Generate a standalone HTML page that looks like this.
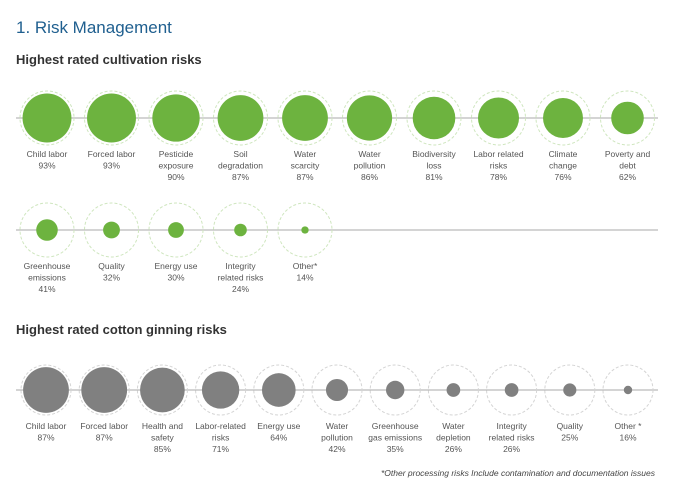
<!DOCTYPE html>
<html><head><meta charset="utf-8"><style>
body{margin:0;background:#fff;font-family:"Liberation Sans",sans-serif;}
svg{display:block}
</style></head><body>
<svg width="676" height="485" id="c">
<text x="16" y="33" font-size="17" fill="#1f5f8f">1. Risk Management</text>
<text x="16" y="64" font-size="13" font-weight="bold" fill="#333">Highest rated cultivation risks</text>
<text x="16" y="334" font-size="13" font-weight="bold" fill="#333">Highest rated cotton ginning risks</text>
<text x="655" y="476" font-size="8.5" font-style="italic" fill="#444" text-anchor="end">*Other processing risks Include contamination and documentation issues</text>
</svg>
<script>
const cultLabels=[["Child labor"],["Forced labor"],["Pesticide","exposure"],["Soil","degradation"],["Water","scarcity"],["Water","pollution"],["Biodiversity","loss"],["Labor related","risks"],["Climate","change"],["Poverty and","debt"],["Greenhouse","emissions"],["Quality"],["Energy use"],["Integrity","related risks"],["Other*"]];
const cultValues=[93,93,90,87,87,86,81,78,76,62,41,32,30,24,14];
const ginLabels=[["Child labor"],["Forced labor"],["Health and","safety"],["Labor-related","risks"],["Energy use"],["Water","pollution"],["Greenhouse","gas emissions"],["Water","depletion"],["Integrity","related risks"],["Quality"],["Other *"]];
const ginValues=[87,87,85,71,64,42,35,26,26,25,16];
const svg=document.getElementById('c');
const NS='http://www.w3.org/2000/svg';
function mk(t,a){const e=document.createElementNS(NS,t);for(const k in a)e.setAttribute(k,a[k]);svg.appendChild(e);return e;}
function rScale(v){return v*0.263;}
function line(y,name){const l=mk('line',{x1:16,x2:658,y1:y,y2:y,stroke:'#aaa','stroke-width':1});

}
line(118,'cultivation-row1-axis');line(230,'cultivation-row2-axis');line(390,'ginning-axis');
function bubble(cx,cy,v,lab,color,ring,name){
 const rg=mk('circle',{cx:cx,cy:cy,r:ring,fill:'none',stroke:color==='#6db33f'?'#cfe6bf':'#d4d4d4','stroke-dasharray':'3,2','stroke-width':1});
 
 
 const c=mk('circle',{cx:cx,cy:cy,r:rScale(v),fill:color});
 
 
 const t=mk('text',{x:cx,y:cy+39,'font-size':8.5,fill:'#555','text-anchor':'middle'});
 
 
 const lines=lab.concat([v+'%']);
 lines.forEach((s,i)=>{const ts=document.createElementNS(NS,'tspan');ts.setAttribute('x',cx);ts.setAttribute('dy',i?11.5:0);ts.textContent=s;t.appendChild(ts);});
}
cultValues.forEach((v,i)=>{
 const row=i<10?0:1, col=i<10?i:i-10;
 bubble(47+col*64.5,row?230:118,v,cultLabels[i],'#6db33f',27,'cultivation-bubble-'+(i+1));
});
ginValues.forEach((v,i)=>{
 bubble(46+i*58.2,390,v,ginLabels[i],'#808080',25,'ginning-bubble-'+(i+1));
});
</script>
</body></html>
